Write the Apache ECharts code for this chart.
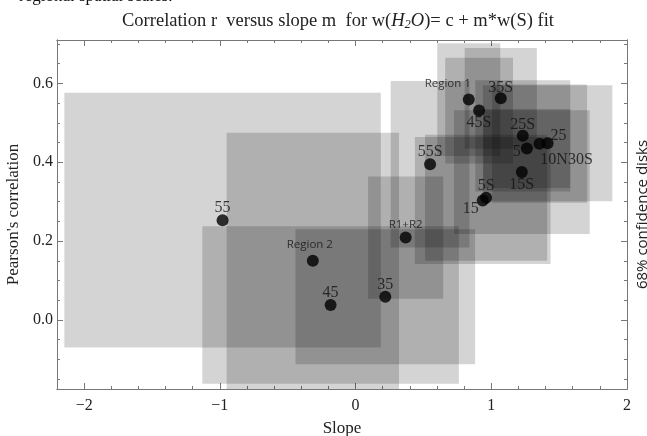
<!DOCTYPE html>
<html>
<head>
<meta charset="utf-8">
<script src="https://cdn.jsdelivr.net/npm/echarts@6/dist/echarts.min.js"></script>
<style>html,body{margin:0;padding:0;background:#fff;}#c{width:647px;height:436px;}</style>
</head>
<body>
<div id="c"></div>
<script>
// ---- data ----
const names   = ['55','Region 2','45','35','R1+R2','55S','Region 1','35S','45S','25S','5','10N30S','25','15S','5S','15'];
const slope   = [-0.98,-0.315,-0.184,0.219,0.369,0.549,0.834,1.07,0.91,1.232,1.262,1.356,1.415,1.225,0.962,0.937];
const pearson = [0.253,0.150,0.038,0.059,0.209,0.395,0.559,0.562,0.531,0.467,0.435,0.447,0.448,0.375,0.310,0.303];
const slopeErr   = [1.166,0.635,0.945,0.662,0.277,0.29,0.232,0.266,0.25,0.35,0.32,0.35,0.477,0.50,0.45,0.50];
const pearsonErr = [0.323,0.325,0.200,0.171,0.155,0.211,0.143,0.128,0.134,0.141,0.10,0.15,0.147,0.157,0.16,0.161];
const xMajor = [-2,-1,0,1,2];
const xMinor = [-2.2,-1.8,-1.6,-1.4,-1.2,-0.8,-0.6,-0.4,-0.2,0.2,0.4,0.6,0.8,1.2,1.4,1.6,1.8];
const yMajor = [0,0.2,0.4,0.6];
const yMinor = [-0.15,-0.1,-0.05,0.05,0.1,0.15,0.25,0.3,0.35,0.45,0.5,0.55,0.65,0.7];

// ---- label placement (style only) ----
const sansNames = {'Region 1':1,'Region 2':1,'R1+R2':1};
const labelOffset = {
  '55':[0,-12],'Region 2':[-3,-16],'45':[0,-12],'35':[0,-12],'R1+R2':[0,-13],
  '55S':[0,-12],'Region 1':[-21,-16],'35S':[0,-11],'45S':[0,12],'25S':[0,-11],
  '5':[-10,3],'10N30S':[27,16],'25':[11,-8],'15S':[0,13],'5S':[0,-12],'15':[-12,8]
};

const SERIF = '"Liberation Serif","Times New Roman",serif';
const SANS = '"Open Sans","Noto Sans",sans-serif';
const AX = '#777';
const minus = v => String(v).replace('-', '\u2212');

const rectData = names.map((n,i)=>[slope[i],pearson[i],slopeErr[i],pearsonErr[i]]);
const ptData = names.map((n,i)=>{
  const sans = !!sansNames[n];
  return {
    value:[slope[i],pearson[i]], name:n,
    label:{show:true, position:'inside', offset:labelOffset[n], formatter:n,
      fontFamily: sans?SANS:SERIF, fontSize: sans?11.5:16, color:'#111'}
  };
});

function xAx(pos, ticks, len, labels){
  return {type:'value', min:-2.2, max:2, position:pos, scale:false,
    axisLine:{show:true, onZero:false, lineStyle:{color:AX,width:1}},
    axisTick:{show:true, inside:true, length:len, customValues:ticks, lineStyle:{color:AX}},
    axisLabel:{show:labels, customValues:ticks, margin:9, formatter:minus, fontFamily:SERIF, fontSize:16, color:'#222'},
    splitLine:{show:false}};
}
function yAx(pos, ticks, len, labels){
  return {type:'value', min:-0.175, max:0.71, position:pos,
    axisLine:{show:true, onZero:false, lineStyle:{color:AX,width:1}},
    axisTick:{show:true, inside:true, length:len, customValues:ticks, lineStyle:{color:AX}},
    axisLabel:{show:labels, customValues:ticks, margin:4, formatter:v=>minus(Number(v).toFixed(1)), fontFamily:SERIF, fontSize:16, color:'#222'},
    splitLine:{show:false}};
}

const xAxes = [xAx('bottom',xMajor,6,true), xAx('bottom',xMinor,3,false), xAx('top',xMajor,6,false), xAx('top',xMinor,3,false)];
xAxes[0].name='Slope'; xAxes[0].nameLocation='middle'; xAxes[0].nameGap=31;
xAxes[0].nameTextStyle={fontFamily:SERIF,fontSize:17,color:'#222'};
const yAxes = [yAx('left',yMajor,6,true), yAx('left',yMinor,3,false), yAx('right',yMajor,6,false), yAx('right',yMinor,3,false)];
yAxes[0].name="Pearson's correlation"; yAxes[0].nameLocation='middle'; yAxes[0].nameGap=31;
yAxes[0].nameTextStyle={fontFamily:SERIF,fontSize:17,color:'#222'};
yAxes[2].name='68% confidence disks'; yAxes[2].nameLocation='middle'; yAxes[2].nameGap=8; yAxes[2].nameRotate=90;
yAxes[2].nameTextStyle={fontFamily:SANS,fontSize:15,color:'#222'};

const chart = echarts.init(document.getElementById('c'), null, {renderer:'canvas'});
chart.setOption({
  animation:false,
  backgroundColor:'#fff',
  grid:{left:57, right:20, top:40, bottom:47, containLabel:false, outerBoundsMode:'none'},
  title:{text:'Correlation r  versus slope m  for w({i|H}{s|2}{i|O})= c + m*w(S) fit', left:333, top:6, textAlign:'center',
    textStyle:{fontFamily:SERIF, fontSize:18.5, fontWeight:'normal', color:'#222',
      rich:{i:{fontFamily:SERIF,fontSize:18.5,fontStyle:'italic',color:'#222'}, s:{fontFamily:SERIF,fontSize:12.5,fontStyle:'italic',color:'#222',verticalAlign:'bottom',padding:[7,0,0,0]}}}},
  graphic:[{type:'text', left:19, top:-12, style:{text:'regional spatial scales.', font:'17px "Liberation Serif", serif', fill:'#111'}}],
  xAxis:xAxes,
  yAxis:yAxes,
  series:[
    {type:'custom', xAxisIndex:0, yAxisIndex:0, data:rectData, encode:{x:0,y:1}, z:1, silent:true,
      renderItem:function(params, api){
        const x=api.value(0), y=api.value(1), dx=api.value(2), dy=api.value(3);
        const p1=api.coord([x-dx,y+dy]), p2=api.coord([x+dx,y-dy]);
        const cs=params.coordSys;
        const r=echarts.graphic.clipRectByRect({x:p1[0],y:p1[1],width:p2[0]-p1[0],height:p2[1]-p1[1]},{x:cs.x,y:cs.y,width:cs.width,height:cs.height});
        if(!r) return null;
        return {type:'rect', shape:r, style:{fill:'rgba(0,0,0,0.17)'}};
      }},
    {type:'scatter', xAxisIndex:0, yAxisIndex:0, data:ptData, symbol:'circle', symbolSize:12, z:3,
      itemStyle:{color:'#000'}}
  ]
});
</script>
</body>
</html>
